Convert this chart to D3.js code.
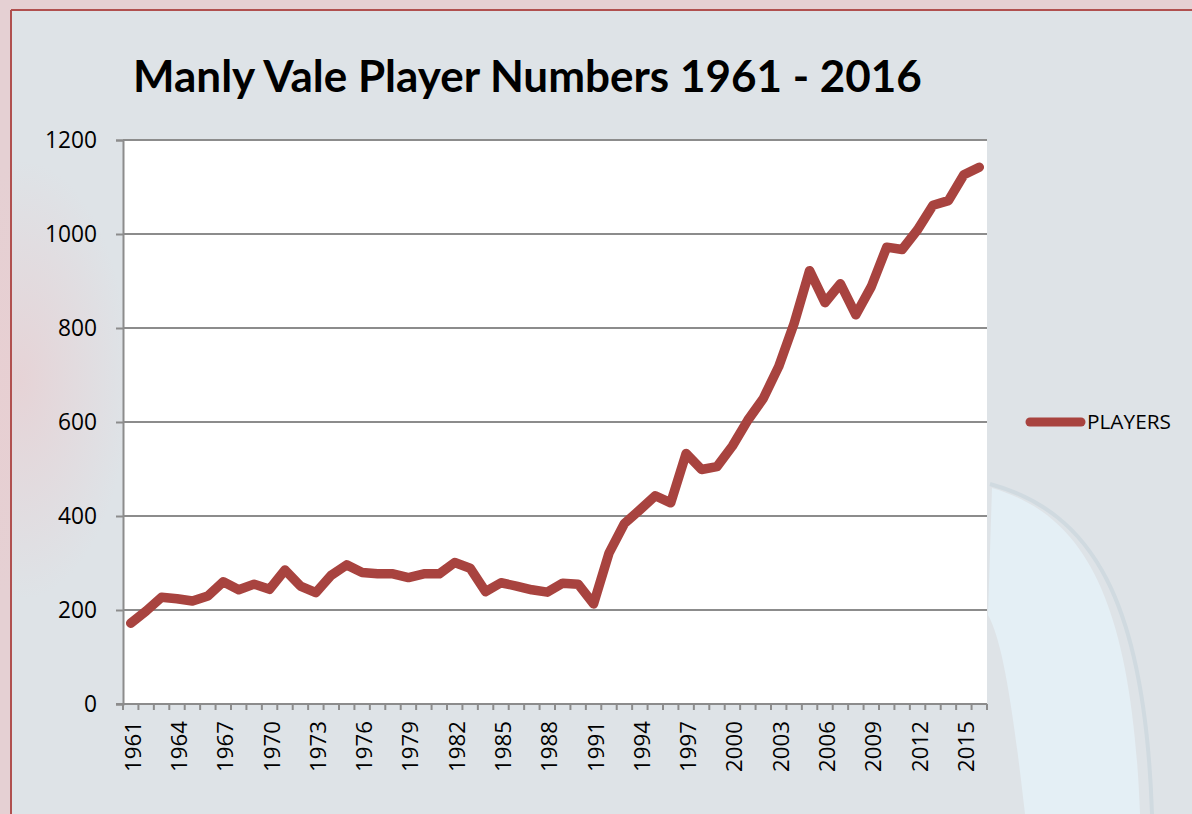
<!DOCTYPE html>
<html>
<head>
<meta charset="utf-8">
<script src="https://cdn.jsdelivr.net/npm/d3@7"></script>
<style>
  html, body { margin: 0; padding: 0; background: #dfe3e7; }
  svg { display: block; }
  text { font-family: Lato, "Open Sans", "Noto Sans", sans-serif; fill: #000; }
</style>
</head>
<body>
<div id="chart"></div>
<script>
const title = 'Manly Vale Player Numbers 1961 - 2016';
const seriesName = 'PLAYERS';

const years = d3.range(1961, 2017);
const players = [
  172, 198, 227, 224, 219, 230, 260, 243, 255, 244,
  285, 251, 237, 274, 296, 280, 277, 277, 269, 277,
  277, 301, 289, 239, 258, 251, 243, 238, 257, 255,
  213, 321, 384, 413, 443, 428, 533, 499, 505, 549,
  604, 650, 718, 810, 922, 854, 894, 828, 888, 972,
  967, 1009, 1061, 1071, 1126, 1142
];
const yTicks = [0, 200, 400, 600, 800, 1000, 1200];

const W = 1192, H = 814;
const margin = {top: 140, right: 205, bottom: 110, left: 123};
const width = W - margin.left - margin.right;
const height = H - margin.top - margin.bottom;

// scale a text node's font so it spans the given width
function fitWidth(sel, target, base) {
    const w = sel.node().getComputedTextLength();
    return base * target / w;
}

const svg = d3.select('#chart').append('svg')
    .attr('width', W)
    .attr('height', H);

const defs = svg.append('defs');
const glow = defs.append('radialGradient').attr('id', 'glow');
glow.append('stop').attr('offset', '0%').attr('stop-color', '#e8cfd2').attr('stop-opacity', 0.8);
glow.append('stop').attr('offset', '100%').attr('stop-color', '#e8cfd2').attr('stop-opacity', 0);

// slide background + frame
svg.append('rect').attr('width', W).attr('height', H).attr('fill', '#e5d0d3');
svg.append('rect').attr('x', 11).attr('y', 10).attr('width', W - 11).attr('height', H - 10)
    .attr('fill', '#dee3e7');
svg.append('ellipse').attr('cx', 20).attr('cy', 380).attr('rx', 110).attr('ry', 220)
    .attr('fill', 'url(#glow)');
svg.append('path')
    .attr('d', 'M992,488 C1085,515 1132,600 1140,814 L1025,814 C1012,700 1002,640 988,615 Z')
    .attr('fill', '#e4eff5');
svg.append('path')
    .attr('d', 'M990,484 C1092,512 1145,600 1152,814')
    .attr('fill', 'none').attr('stroke', '#d0dae0').attr('stroke-width', 4);
svg.append('line').attr('x1', 11).attr('x2', W).attr('y1', 10).attr('y2', 10)
    .attr('stroke', '#b0504f').attr('stroke-width', 2);
svg.append('line').attr('x1', 11).attr('x2', 11).attr('y1', 10).attr('y2', H)
    .attr('stroke', '#b0504f').attr('stroke-width', 2);

const g = svg.append('g').attr('transform', 'translate(' + margin.left + ',' + margin.top + ')');

const x = d3.scaleBand()
    .domain(years)
    .range([0, width]);
const y = d3.scaleLinear()
    .domain([0, 1200])
    .range([height, 0]);

g.append('rect').attr('width', width).attr('height', height).attr('fill', '#fff');

// gridlines
g.append('g')
    .selectAll('line')
    .data(yTicks.filter(d => d > 0))
    .join('line')
    .attr('x1', 0).attr('x2', width)
    .attr('y1', d => y(d)).attr('y2', d => y(d))
    .attr('stroke', '#8c8c8c').attr('stroke-width', 2);

// y axis
const yAxis = g.append('g')
    .call(d3.axisLeft(y).tickValues(yTicks).tickFormat(d3.format('d')).tickSize(7).tickPadding(19));
yAxis.attr('font-family', null).attr('font-size', null);
yAxis.select('.domain').attr('stroke', '#8c8c8c').attr('stroke-width', 2);
yAxis.selectAll('.tick line').attr('stroke', '#8c8c8c').attr('stroke-width', 2);
const yLab = yAxis.selectAll('.tick text')
    .style('font-family', '"Open Sans", sans-serif')
    .style('font-size', '22px');
const yFs = fitWidth(yAxis.selectAll('.tick text').filter(d => d === 1200), 52, 22);
yLab.style('font-size', yFs + 'px');

// x axis (ticks between categories, labels every 3 years)
const xAxis = g.append('g').attr('transform', 'translate(0,' + height + ')');
xAxis.append('line').attr('x1', -7).attr('x2', width).attr('stroke', '#8c8c8c').attr('stroke-width', 2);
xAxis.selectAll('line.tk')
    .data(years.concat([null]))
    .join('line')
    .attr('class', 'tk')
    .attr('x1', (d, i) => i * x.step()).attr('x2', (d, i) => i * x.step())
    .attr('y1', 0).attr('y2', 6)
    .attr('stroke', '#8c8c8c').attr('stroke-width', 2);
const xLab = xAxis.selectAll('text')
    .data(years.filter((d, i) => i % 3 === 0))
    .join('text')
    .attr('transform', d => 'translate(' + (x(d) + x.bandwidth() / 2 + 10) + ',17) rotate(-90)')
    .attr('text-anchor', 'end')
    .style('font-family', '"Open Sans", sans-serif')
    .style('font-size', '22px')
    .text(d => d);
const xFs = fitWidth(xLab.filter(d => d === 1961), 51, 22);
xLab.style('font-size', xFs + 'px');

// series line
const line = d3.line()
    .x((d, i) => x(years[i]) + x.bandwidth() / 2)
    .y(d => y(d));

g.append('path')
    .datum(players)
    .attr('fill', 'none')
    .attr('stroke', '#a8433f')
    .attr('stroke-width', 9.5)
    .attr('stroke-linejoin', 'round')
    .attr('stroke-linecap', 'round')
    .attr('d', line);

// legend
const lg = svg.append('g').attr('transform', 'translate(1030,422)');
lg.append('line').attr('x1', 0).attr('x2', 51)
    .attr('stroke', '#a8433f').attr('stroke-width', 9).attr('stroke-linecap', 'round');
const lt = lg.append('text').attr('x', 57).attr('y', 7)
    .style('font-family', '"Open Sans", sans-serif')
    .style('font-size', '20px')
    .text(seriesName);
lt.style('font-size', fitWidth(lt, 84, 20) + 'px');

// title, fitted to the reference width
const t = svg.append('text')
    .attr('x', 133).attr('y', 92)
    .style('font-weight', 'bold')
    .style('font-size', '40px')
    .text(title);
t.style('font-size', fitWidth(t, 789, 40) + 'px');
</script>
</body>
</html>
